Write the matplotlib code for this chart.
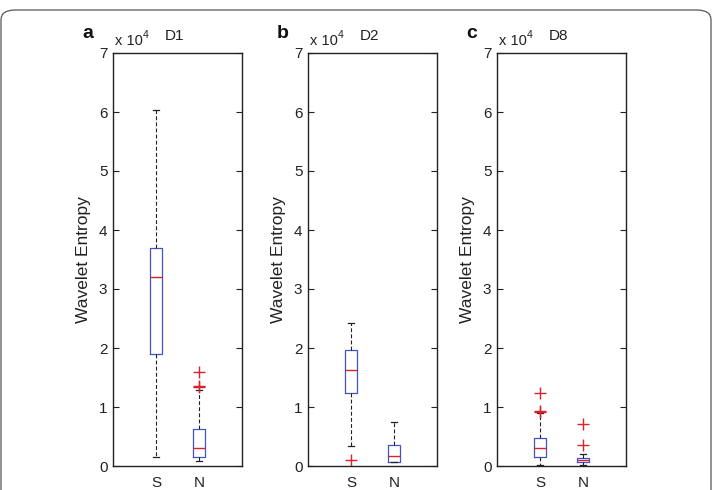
import matplotlib
matplotlib.use("Agg")
import matplotlib.pyplot as plt
from matplotlib.patches import FancyBboxPatch

plt.rcParams['font.family'] = ['Liberation Sans', 'DejaVu Sans']

# ---- data (values in units of 10^4) ----
groups = ["S", "N"]
panel_letters = ["a", "b", "c"]
panel_titles = ["D1", "D2", "D8"]

# panel a (D1)
a_whislo = [0.16, 0.08]
a_q1 = [1.90, 0.15]
a_med = [3.20, 0.31]
a_q3 = [3.69, 0.62]
a_whishi = [6.04, 1.28]
a_fliers = [[], [1.59, 1.36, 1.34]]

# panel b (D2)
b_whislo = [0.34, 0.06]
b_q1 = [1.24, 0.07]
b_med = [1.63, 0.17]
b_q3 = [1.96, 0.36]
b_whishi = [2.42, 0.74]
b_fliers = [[0.10], []]

# panel c (D8)
c_whislo = [0.01, 0.02]
c_q1 = [0.16, 0.06]
c_med = [0.30, 0.10]
c_q3 = [0.47, 0.13]
c_whishi = [0.90, 0.20]
c_fliers = [[1.23, 0.94, 0.92], [0.71, 0.35]]

yticks = [0, 1, 2, 3, 4, 5, 6, 7]

panels = [
    (a_whislo, a_q1, a_med, a_q3, a_whishi, a_fliers),
    (b_whislo, b_q1, b_med, b_q3, b_whishi, b_fliers),
    (c_whislo, c_q1, c_med, c_q3, c_whishi, c_fliers),
]

W, H = 713, 490
fig = plt.figure(figsize=(W / 100, H / 100), dpi=100)

# rounded frame around the figure
frame = FancyBboxPatch((1.0 / W, -0.1), (710.0 / W), (1.1 - 10.0 / H),
                       boxstyle="round,pad=0,rounding_size=0.02",
                       transform=fig.transFigure, facecolor="none",
                       edgecolor="#555555", linewidth=0.9, clip_on=False)
fig.patches.append(frame)

ax_left_px = [113, 308, 497]
ax_w_px = 129
ax_bottom_px = 466
ax_top_px = 53

box_color = "#4255c4"
med_color = "#d8232a"

for i, (wl, q1, med, q3, wh, fl) in enumerate(panels):
    l = ax_left_px[i]
    ax = fig.add_axes([l / W, (H - ax_bottom_px) / H, ax_w_px / W,
                       (ax_bottom_px - ax_top_px) / H])
    stats = []
    for j in range(len(groups)):
        stats.append(dict(label=groups[j], whislo=wl[j], q1=q1[j], med=med[j],
                          q3=q3[j], whishi=wh[j], fliers=fl[j]))
    ax.bxp(stats, positions=[1, 2], widths=0.3, capwidths=0.14,
           boxprops=dict(color=box_color, linewidth=0.9),
           medianprops=dict(color=med_color, linewidth=1.0),
           whiskerprops=dict(color="#222222", linewidth=0.8,
                             linestyle=(0, (3.5, 2.0))),
           capprops=dict(color="#222222", linewidth=0.9),
           flierprops=dict(marker="+", markeredgecolor=med_color,
                           markersize=8, markeredgewidth=1.0,
                           linestyle="none"))
    ax.set_xlim(0, 3)
    ax.set_ylim(0, 7)
    ax.set_yticks(yticks)
    ax.set_yticklabels([str(t) for t in yticks])
    ax.set_xticks([1, 2])
    ax.set_xticklabels(groups)
    ax.tick_params(axis="y", direction="in", length=4, width=0.8,
                   right=True, labelsize=11, pad=4, colors="#222222")
    ax.tick_params(axis="x", length=0, labelsize=11, pad=7, colors="#222222")
    for s in ax.spines.values():
        s.set_color("#222222")
        s.set_linewidth(1.0)
    ax.set_ylabel("Wavelet Entropy", fontsize=12.5, color="#222222", labelpad=6)

    # annotations above the axes
    cx = (l + ax_w_px / 2) / W
    fig.text(cx - 3 / W, 1 - 36 / H, panel_titles[i], ha="center", va="center",
             fontsize=11, color="#222222")
    fig.text((l + 2) / W, 1 - 41 / H, "x 10", ha="left", va="center",
             fontsize=10.5, color="#222222")
    fig.text((l + 30) / W, 1 - 35 / H, "4", ha="left", va="center",
             fontsize=7.5, color="#222222")
    fig.text((l - 31) / W, 1 - 33 / H, panel_letters[i], ha="left",
             va="center", fontsize=14, fontweight="bold", color="#111111")

fig.savefig("out.png", dpi=100, facecolor="white")
